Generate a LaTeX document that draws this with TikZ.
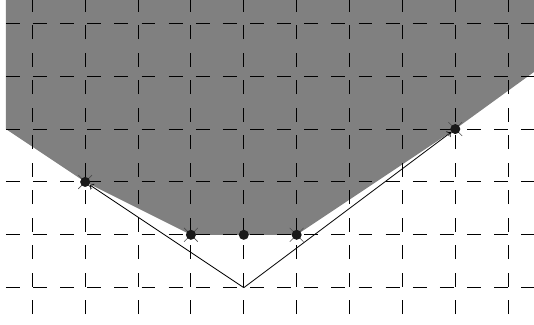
\documentclass[tikz,border=0pt]{standalone}
\usepackage{tikz}

\begin{document}
\begin{tikzpicture}[
  dot/.style={circle, fill=black!90, inner sep=0pt, minimum size=0.19cm},
  hline/.style={line width=0.5pt, dash pattern=on 7.5pt off 7.1pt},
  vline/.style={line width=0.5pt, dash pattern=on 7.5pt off 7.3pt},
  arr/.style={->, line width=0.45pt},
  cross/.style={line width=0.3pt, black!70}
]
\useasboundingbox (-0.611,-0.688) rectangle (9.489,5.441);
\fill[black!50] (-0.5,5.441) -- (-0.5,3) -- (1,2) -- (3,1) -- (5,1) -- (8,3) -- (9.489,4.08) -- (9.489,5.441) -- cycle;
\foreach \y in {0,...,5}
  \draw[hline] (-0.5,\y) -- (9.489,\y);
\foreach \x in {0,...,9}
  \draw[vline] (\x,-0.5) -- (\x,5.441);
\foreach \x/\y in {1/2,3/1,5/1,8/3}
  \draw[cross] (\x-0.13,\y-0.13) -- (\x+0.13,\y+0.13) (\x-0.13,\y+0.13) -- (\x+0.13,\y-0.13);
\node[dot] (p1) at (1,2) {};
\node[dot] (p2) at (3,1) {};
\node[dot] (p3) at (4,1) {};
\node[dot] (p4) at (5,1) {};
\node[dot] (p5) at (8,3) {};
\coordinate (v) at (4,0);
\draw[arr] (v) -- (p1);
\draw[arr] (v) -- (p5);
\end{tikzpicture}
\end{document}
